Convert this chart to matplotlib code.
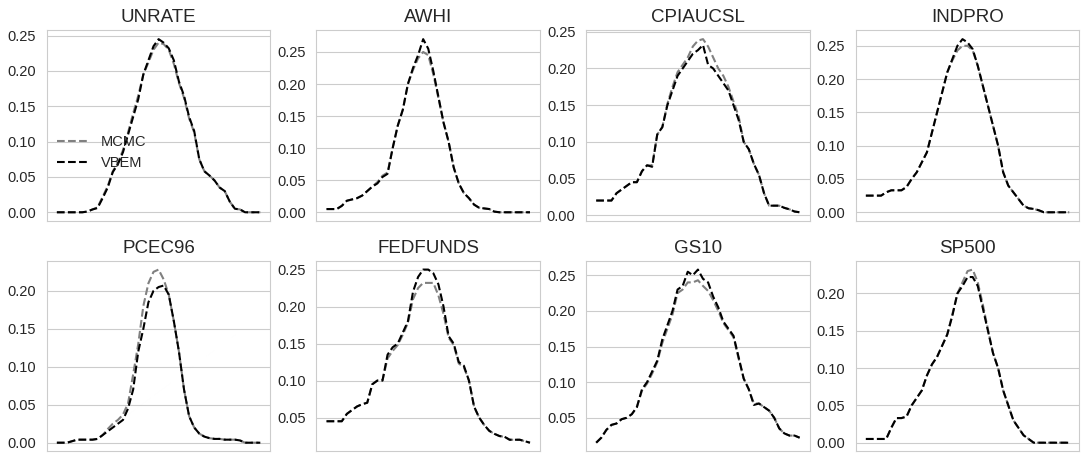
import numpy as np
import matplotlib
matplotlib.use("Agg")
import matplotlib.pyplot as plt
import seaborn as sns

# Posterior densities, 41 evenly spaced points per series
titles = ["UNRATE", "AWHI", "CPIAUCSL", "INDPRO", "PCEC96", "FEDFUNDS", "GS10", "SP500"]

unrate_vbem = [0, 0, 0, 0, 0, 0, 0.001, 0.004, 0.006, 0.02, 0.035, 0.057, 0.068, 0.085,
               0.11, 0.135, 0.16, 0.195, 0.215, 0.235, 0.245, 0.24, 0.232, 0.215, 0.185,
               0.165, 0.135, 0.115, 0.075, 0.058, 0.052, 0.045, 0.035, 0.03, 0.015, 0.005,
               0.004, 0, 0, 0, 0]
unrate_mcmc = [0, 0, 0, 0, 0, 0, 0.001, 0.004, 0.007, 0.022, 0.037, 0.058, 0.07, 0.088,
               0.113, 0.14, 0.165, 0.195, 0.212, 0.23, 0.24, 0.238, 0.23, 0.21, 0.183,
               0.162, 0.133, 0.113, 0.075, 0.058, 0.052, 0.045, 0.035, 0.03, 0.015, 0.005,
               0.004, 0, 0, 0, 0]

awhi_vbem = [0.005, 0.005, 0.005, 0.01, 0.018, 0.02, 0.022, 0.026, 0.033, 0.04, 0.045,
             0.055, 0.06, 0.1, 0.135, 0.16, 0.2, 0.225, 0.245, 0.27, 0.255, 0.22, 0.18,
             0.14, 0.11, 0.07, 0.045, 0.03, 0.022, 0.012, 0.007, 0.006, 0.005, 0.001,
             0, 0, 0, 0, 0, 0, 0]
awhi_mcmc = [0.005, 0.005, 0.005, 0.01, 0.018, 0.02, 0.022, 0.026, 0.033, 0.04, 0.047,
             0.057, 0.062, 0.1, 0.135, 0.16, 0.2, 0.222, 0.24, 0.25, 0.245, 0.215, 0.178,
             0.14, 0.11, 0.07, 0.045, 0.03, 0.022, 0.012, 0.007, 0.006, 0.005, 0.001,
             0, 0, 0, 0, 0, 0, 0]

cpi_vbem = [0.02, 0.02, 0.02, 0.02, 0.03, 0.035, 0.04, 0.045, 0.045, 0.06, 0.068, 0.066,
            0.11, 0.12, 0.15, 0.17, 0.19, 0.2, 0.21, 0.22, 0.225, 0.232, 0.205, 0.2, 0.19,
            0.18, 0.17, 0.15, 0.13, 0.1, 0.09, 0.07, 0.055, 0.03, 0.013, 0.013, 0.013,
            0.01, 0.008, 0.005, 0.004]
cpi_mcmc = [0.02, 0.02, 0.02, 0.02, 0.03, 0.035, 0.04, 0.045, 0.045, 0.06, 0.068, 0.068,
            0.11, 0.12, 0.152, 0.175, 0.195, 0.205, 0.215, 0.23, 0.238, 0.24, 0.23, 0.215,
            0.2, 0.19, 0.175, 0.155, 0.135, 0.1, 0.09, 0.07, 0.055, 0.03, 0.013, 0.013,
            0.013, 0.01, 0.008, 0.005, 0.004]

indpro_vbem = [0.025, 0.025, 0.025, 0.025, 0.03, 0.033, 0.033, 0.033, 0.038, 0.05, 0.06,
               0.075, 0.09, 0.12, 0.15, 0.18, 0.21, 0.23, 0.25, 0.26, 0.255, 0.245, 0.22,
               0.19, 0.16, 0.13, 0.1, 0.06, 0.04, 0.03, 0.02, 0.01, 0.006, 0.005, 0.003,
               0, 0, 0, 0, 0, 0]
indpro_mcmc = [0.025, 0.025, 0.025, 0.025, 0.03, 0.033, 0.033, 0.033, 0.038, 0.05, 0.06,
               0.075, 0.09, 0.12, 0.15, 0.18, 0.21, 0.228, 0.243, 0.25, 0.25, 0.243, 0.22,
               0.19, 0.16, 0.13, 0.1, 0.06, 0.04, 0.03, 0.02, 0.01, 0.006, 0.005, 0.003,
               0, 0, 0, 0, 0, 0]

pce_vbem = [0, 0, 0, 0.002, 0.004, 0.004, 0.004, 0.004, 0.005, 0.01, 0.015, 0.02, 0.025,
            0.03, 0.045, 0.07, 0.12, 0.15, 0.185, 0.2, 0.205, 0.207, 0.195, 0.16, 0.12,
            0.07, 0.035, 0.02, 0.012, 0.008, 0.006, 0.005, 0.005, 0.004, 0.004, 0.004,
            0.003, 0, 0, 0, 0]
pce_mcmc = [0, 0, 0, 0.002, 0.004, 0.004, 0.004, 0.004, 0.005, 0.01, 0.018, 0.025, 0.03,
            0.037, 0.052, 0.09, 0.13, 0.18, 0.21, 0.225, 0.228, 0.215, 0.195, 0.16, 0.12,
            0.07, 0.035, 0.02, 0.012, 0.008, 0.006, 0.005, 0.005, 0.004, 0.004, 0.004,
            0.003, 0, 0, 0, 0]

fed_vbem = [0.045, 0.045, 0.045, 0.045, 0.055, 0.06, 0.065, 0.068, 0.07, 0.095, 0.1, 0.1,
            0.135, 0.145, 0.15, 0.165, 0.18, 0.22, 0.24, 0.25, 0.25, 0.245, 0.23, 0.2,
            0.16, 0.15, 0.125, 0.12, 0.1, 0.065, 0.05, 0.04, 0.032, 0.028, 0.025, 0.024,
            0.02, 0.02, 0.02, 0.018, 0.016]
fed_mcmc = [0.045, 0.045, 0.045, 0.045, 0.055, 0.06, 0.065, 0.068, 0.07, 0.095, 0.1, 0.1,
            0.13, 0.14, 0.148, 0.162, 0.178, 0.21, 0.225, 0.232, 0.232, 0.232, 0.215, 0.19,
            0.158, 0.148, 0.123, 0.118, 0.1, 0.065, 0.05, 0.04, 0.032, 0.028, 0.025, 0.024,
            0.02, 0.02, 0.02, 0.018, 0.016]

gs10_vbem = [0.015, 0.022, 0.033, 0.04, 0.042, 0.048, 0.05, 0.055, 0.065, 0.09, 0.1, 0.115,
             0.13, 0.16, 0.18, 0.2, 0.23, 0.235, 0.255, 0.25, 0.258, 0.245, 0.24, 0.22,
             0.205, 0.185, 0.175, 0.165, 0.135, 0.105, 0.09, 0.068, 0.07, 0.065, 0.06,
             0.05, 0.035, 0.028, 0.025, 0.025, 0.022]
gs10_mcmc = [0.015, 0.022, 0.033, 0.04, 0.042, 0.048, 0.05, 0.055, 0.065, 0.088, 0.098,
             0.112, 0.128, 0.155, 0.175, 0.195, 0.225, 0.23, 0.24, 0.24, 0.243, 0.235,
             0.228, 0.215, 0.2, 0.183, 0.173, 0.163, 0.133, 0.105, 0.09, 0.07, 0.07, 0.065,
             0.06, 0.05, 0.035, 0.028, 0.025, 0.025, 0.022]

sp_vbem = [0.005, 0.005, 0.005, 0.005, 0.005, 0.02, 0.033, 0.033, 0.035, 0.05, 0.06, 0.07,
           0.09, 0.105, 0.115, 0.13, 0.145, 0.17, 0.2, 0.21, 0.222, 0.222, 0.21, 0.18,
           0.15, 0.12, 0.1, 0.07, 0.05, 0.03, 0.02, 0.01, 0.005, 0, 0, 0, 0, 0, 0, 0, 0]
sp_mcmc = [0.005, 0.005, 0.005, 0.005, 0.005, 0.02, 0.033, 0.033, 0.035, 0.05, 0.06, 0.07,
           0.09, 0.105, 0.115, 0.13, 0.145, 0.172, 0.2, 0.215, 0.23, 0.232, 0.215, 0.185,
           0.152, 0.12, 0.1, 0.07, 0.05, 0.03, 0.02, 0.01, 0.005, 0, 0, 0, 0, 0, 0, 0, 0]

mcmc_all = [unrate_mcmc, awhi_mcmc, cpi_mcmc, indpro_mcmc, pce_mcmc, fed_mcmc, gs10_mcmc, sp_mcmc]
vbem_all = [unrate_vbem, awhi_vbem, cpi_vbem, indpro_vbem, pce_vbem, fed_vbem, gs10_vbem, sp_vbem]

sns.set_style("whitegrid")
plt.rcParams['font.family'] = ['Liberation Sans', 'DejaVu Sans']

fig, axes = plt.subplots(2, 4, figsize=(10.86, 4.55), dpi=100)
fig.subplots_adjust(left=0.043, right=0.994, top=0.933, bottom=0.008, wspace=0.205, hspace=0.21)

for i, ax in enumerate(axes.flat):
    x = np.arange(len(vbem_all[i]))
    ax.plot(x, mcmc_all[i], ls='--', color='gray', lw=1.5, label='MCMC')
    ax.plot(x, vbem_all[i], ls='--', color='black', lw=1.5, label='VBEM')
    ax.set_title(titles[i], fontsize=13.5, color='#262626')
    ax.set_xticks([])
    ax.tick_params(axis='y', labelsize=10.5, colors='#262626', pad=4)
    ax.yaxis.set_major_formatter(matplotlib.ticker.FormatStrFormatter('%.2f'))
    for s in ax.spines.values():
        s.set_color('#cccccc')

# legend only on the first panel, a bit below the middle
axes[0, 0].legend(loc='center left', bbox_to_anchor=(0.0, 0.36), frameon=False,
                  fontsize=10.5, handlelength=2.2, borderaxespad=0.3)

fig.savefig("out.png", dpi=100)
